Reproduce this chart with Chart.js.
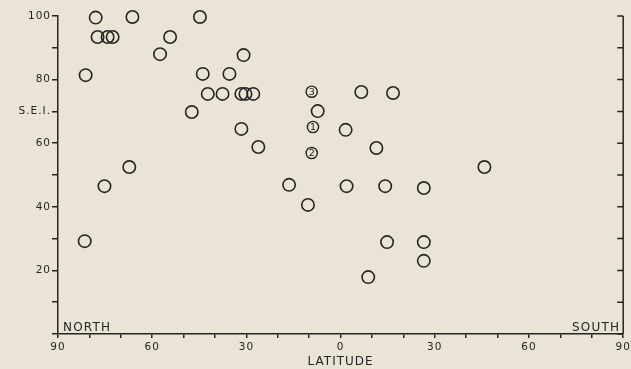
<!DOCTYPE html>
<html>
<head>
<meta charset="utf-8">
<script src="https://cdn.jsdelivr.net/npm/chart.js@4.4.1/dist/chart.umd.min.js"></script>
<style>
  html, body { margin: 0; padding: 0; background: #e9e4d5; }
  #wrap { width: 631px; height: 369px; }
</style>
</head>
<body>
<div id="wrap"><canvas id="chart" width="631" height="369"></canvas></div>
<script>
/* global Chart */

// plain circles: latitude (north negative) and S.E.I.
const latitudes = [
  -81.2, -78.0, -77.4, -74.2, -72.6, -66.3, -57.5, -54.3, -44.8, -43.9,
  -42.3, -47.4, -30.9, -35.4, -37.6, -31.6, -30.3, -27.8, -7.3, 1.6,
  6.6, 16.7, -31.6, -26.2, 11.4, -16.4, 1.9, 14.2, -10.4, 14.8,
  -67.3, -75.2, -81.5, 45.8, 26.5, 26.5, 26.5, 8.8
]
const seiValues = [
  81.4, 99.5, 93.4, 93.4, 93.4, 99.7, 88.0, 93.4, 99.7, 81.8,
  75.5, 69.8, 87.7, 81.8, 75.5, 75.5, 75.5, 75.5, 70.1, 64.2,
  76.1, 75.8, 64.5, 58.8, 58.5, 46.9, 46.5, 46.5, 40.6, 28.9,
  52.5, 46.5, 29.2, 52.5, 45.9, 28.9, 23.0, 17.9
]

// numbered circles
const markedLat = [-8.8, -9.2, -9.2]
const markedSei = [65.1, 56.9, 76.2]
const markedText = ['1', '2', '3']

// tick labels
const xLabelValues = [-90, -60, -30, 0, 30, 60, 90]
const xLabelText = ['90', '60', '30', '0', '30', '60', '90']
const yLabelValues = [20, 40, 60, 70, 80, 100]
const yLabelText = ['20', '40', '60', 'S.E.I.', '80', '100']

const ink = '#262524'
const fontFamily = '"DejaVu Sans", "Liberation Sans", sans-serif'

function toPoints(xs, ys) {
  return xs.map((x, i) => ({ x, y: ys[i] }))
}

// the old typeset labels are spaced out a bit
const spacing = {
  id: 'spacing',
  beforeDraw(chart) { chart.ctx.letterSpacing = '1px' },
  afterDraw(chart) { chart.ctx.letterSpacing = '0px' }
}

const extraDraw = {
  id: 'extraDraw',
  afterDraw(chart) {
    const { ctx, chartArea } = chart
    const y = chart.scales.y
    ctx.save()
    // right axis with inward ticks
    ctx.strokeStyle = ink
    ctx.lineWidth = 1.5
    ctx.beginPath()
    ctx.moveTo(chartArea.right, y.getPixelForValue(100))
    ctx.lineTo(chartArea.right, y.getPixelForValue(0))
    for (const t of y.ticks) {
      const py = y.getPixelForValue(t.value)
      ctx.moveTo(chartArea.right, py)
      ctx.lineTo(chartArea.right - 6, py)
    }
    ctx.stroke()

    // hemisphere labels
    ctx.fillStyle = ink
    ctx.font = '12px ' + fontFamily
    ctx.letterSpacing = '1.2px'
    ctx.textBaseline = 'alphabetic'
    ctx.textAlign = 'left'
    ctx.fillText('NORTH', chartArea.left + 5, chartArea.bottom - 3)
    ctx.textAlign = 'right'
    ctx.fillText('SOUTH', chartArea.right - 3, chartArea.bottom - 3)

    // numbers inside marked circles
    ctx.letterSpacing = '0px'
    ctx.font = '9.5px ' + fontFamily
    ctx.textAlign = 'center'
    ctx.textBaseline = 'middle'
    const meta = chart.getDatasetMeta(1)
    meta.data.forEach((pt, i) => {
      ctx.fillText(markedText[i], pt.x, pt.y + 0.5)
    })
    ctx.restore()
  }
}

new Chart(document.getElementById('chart'), {
  type: 'scatter',
  data: {
    datasets: [
      {
        data: toPoints(latitudes, seiValues),
        pointStyle: 'circle',
        pointRadius: 6.2,
        pointBorderWidth: 1.6,
        borderColor: ink,
        backgroundColor: 'rgba(0,0,0,0)',
        clip: false
      },
      {
        data: toPoints(markedLat, markedSei),
        pointStyle: 'circle',
        pointRadius: 5.6,
        pointBorderWidth: 1.4,
        borderColor: ink,
        backgroundColor: 'rgba(0,0,0,0)',
        clip: false
      }
    ]
  },
  options: {
    responsive: false,
    devicePixelRatio: 1,
    animation: false,
    layout: { padding: { left: 0, right: 4, top: 16, bottom: 0 } },
    plugins: {
      legend: { display: false },
      tooltip: { enabled: false }
    },
    scales: {
      x: {
        type: 'linear',
        min: -90,
        max: 90,
        afterBuildTicks(scale) {
          const ticks = []
          for (let v = -90; v <= 90; v += 10) ticks.push({ value: v })
          scale.ticks = ticks
        },
        afterFit(scale) {
          scale.height = 35
          scale.paddingLeft = 0
          scale.paddingRight = 0
        },
        border: { display: true, color: ink, width: 1.5 },
        grid: {
          drawOnChartArea: false,
          drawTicks: true,
          tickLength: 4,
          tickColor: ink,
          lineWidth: 1.5
        },
        ticks: {
          autoSkip: false,
          maxRotation: 0,
          padding: 3,
          color: ink,
          font: { family: fontFamily, size: 10.5 },
          callback(v) {
            const i = xLabelValues.indexOf(v)
            return i >= 0 ? xLabelText[i] : ''
          }
        },
        title: {
          display: true,
          text: 'LATITUDE',
          color: ink,
          padding: { top: 0, bottom: 0 },
          font: { family: fontFamily, size: 12 }
        }
      },
      y: {
        type: 'linear',
        min: 0,
        max: 100,
        afterBuildTicks(scale) {
          const ticks = []
          for (let v = 0; v <= 100; v += 10) ticks.push({ value: v })
          scale.ticks = ticks
        },
        afterFit(scale) {
          scale.width = 58
          scale.paddingTop = 0
          scale.paddingBottom = 0
        },
        border: { display: true, color: ink, width: 1.5 },
        grid: {
          drawOnChartArea: false,
          drawTicks: true,
          tickLength: 6,
          tickColor: ink,
          lineWidth: 1.5
        },
        ticks: {
          autoSkip: false,
          padding: 1,
          color: ink,
          font: { family: fontFamily, size: 10.5 },
          callback(v) {
            const i = yLabelValues.indexOf(v)
            return i >= 0 ? yLabelText[i] : ''
          }
        }
      }
    }
  },
  plugins: [spacing, extraDraw]
})
</script>
</body>
</html>
